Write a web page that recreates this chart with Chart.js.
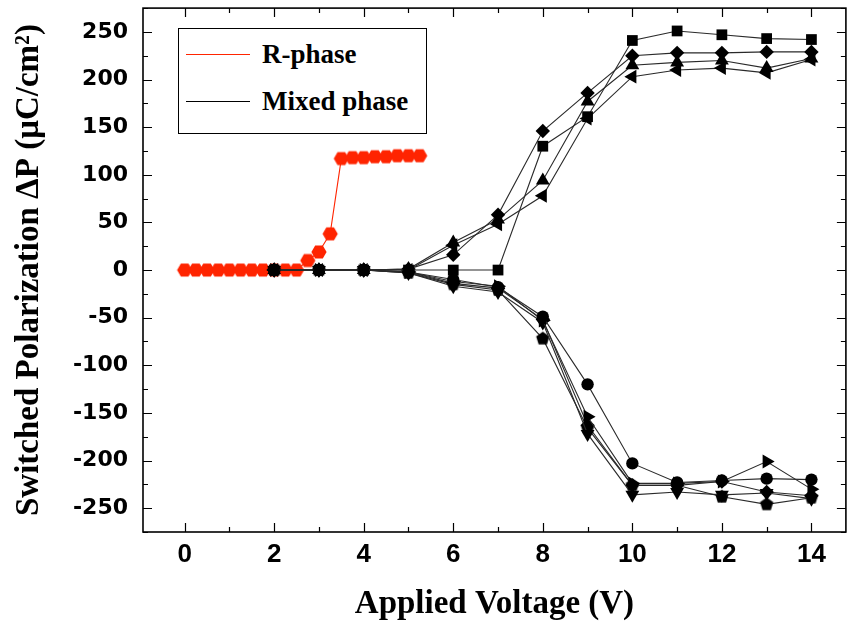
<!DOCTYPE html>
<html>
<head>
<meta charset="utf-8">
<script src="https://cdn.jsdelivr.net/npm/chart.js@4/dist/chart.umd.min.js"></script>
<style>
  html, body { margin: 0; padding: 0; background: #fff; }
  #wrap { position: relative; width: 854px; height: 624px; }
  #legend {
    position: absolute; left: 178px; top: 28px; width: 249px; height: 106px;
    box-sizing: border-box; border: 1.5px solid #000; background: #fff;
    font-family: "Liberation Serif", "Times New Roman", serif; font-weight: bold; font-size: 27px;
  }
  #legend .item { position: absolute; left: 7px; display: flex; align-items: center; height: 30px; }
  #legend .swatch { width: 64px; height: 0; border-top: 1.6px solid; margin-right: 12px; }
</style>
</head>
<body>
<div id="wrap">
  <canvas id="c" width="854" height="624"></canvas>
  <div id="legend"></div>
</div>
<script>
// ---- data -------------------------------------------------------------
const xTickValues = [0, 2, 4, 6, 8, 10, 12, 14];
const yTickValues = [-250, -200, -150, -100, -50, 0, 50, 100, 150, 200, 250];

// R-phase sweep (V, µC/cm²)
const rPhaseVoltage = [0, 0.25, 0.5, 0.75, 1, 1.25, 1.5, 1.75, 2, 2.25, 2.5,
                       2.75, 3, 3.25, 3.5, 3.75, 4, 4.25, 4.5, 4.75, 5, 5.25];
const rPhaseDP      = [0, 0, 0, 0, 0, 0, 0, 0, 0, 0, 0,
                       10, 19, 38, 117, 118, 118, 119, 119, 120, 120, 120];

// Mixed-phase samples, one array per measured capacitor
const mixedVoltage  = [2, 3, 4, 5, 6, 7, 8, 9, 10, 11, 12, 13, 14];
const mixedSquare   = [0, 0, 0, 0, 0, 0, 130, 161, 241, 251, 247, 243, 242];
const mixedDiamond  = [0, 0, 0, 1, 16, 58, 146, 186, 225, 228, 228, 229, 229];
const mixedTriUp    = [0, 0, 0, 1, 29, 53, 94, 177, 215, 218, 220, 212, 222];
const mixedTriLeft  = [0, 0, 0, 0, 26, 48, 78, 159, 203, 210, 212, 207, 221];
const mixedCircle   = [0, 0, 0, -2, -10, -18, -49, -120, -203, -223, -221, -219, -220];
const mixedTriRight = [0, 0, 0, -2, -12, -17, -53, -154, -224, -224, -222, -201, -230];
const mixedTriDown  = [0, 0, 0, -3, -17, -23, -55, -172, -236, -233, -236, -234, -240];
const mixedPentagon = [0, 0, 0, -3, -15, -21, -72, -166, -226, -226, -238, -246, -239];
const mixedDiamond2 = [0, 0, 0, -2, -14, -19, -52, -163, -226, -226, -222, -233, -237];

const xMinorStep = 1;
const yMinorStep = 25;

// ---- marker helpers -----------------------------------------------------
function polygonMarker(sides, r, color, startAngle) {
  const size = Math.ceil(2 * r + 2);
  const cv = document.createElement('canvas');
  cv.width = size; cv.height = size;
  const g = cv.getContext('2d');
  g.fillStyle = color;
  g.beginPath();
  for (let i = 0; i < sides; i++) {
    const a = startAngle + i * 2 * Math.PI / sides;
    const px = size / 2 + r * Math.cos(a);
    const py = size / 2 + r * Math.sin(a);
    if (i === 0) g.moveTo(px, py); else g.lineTo(px, py);
  }
  g.closePath();
  g.fill();
  return cv;
}

const RED = 'rgb(255, 36, 0)';
const hexagon = polygonMarker(6, 7.6, RED, 0);
const pentagon = polygonMarker(5, 7, '#000', -Math.PI / 2);

function toPoints(xs, ys) { return xs.map((x, i) => ({ x, y: ys[i] })); }

function mixedSet(values, style, radius, rotation) {
  return {
    label: 'Mixed phase',
    data: toPoints(mixedVoltage, values),
    borderColor: '#2a2a2a',
    borderWidth: 1.1,
    backgroundColor: '#000',
    pointBackgroundColor: '#000',
    pointBorderColor: '#000',
    pointBorderWidth: 0,
    pointStyle: style,
    pointRadius: radius,
    pointRotation: rotation || 0,
    tension: 0
  };
}

const datasets = [
  mixedSet(mixedSquare, 'rect', 7.6),
  mixedSet(mixedDiamond, 'rectRot', 7.2),
  mixedSet(mixedTriUp, 'triangle', 8),
  mixedSet(mixedTriLeft, 'triangle', 8, 270),
  mixedSet(mixedCircle, 'circle', 6.2),
  mixedSet(mixedTriRight, 'triangle', 8, 90),
  mixedSet(mixedTriDown, 'triangle', 8, 180),
  mixedSet(mixedPentagon, pentagon, 7),
  mixedSet(mixedDiamond2, 'rectRot', 7.2),
  {
    label: 'R-phase',
    data: toPoints(rPhaseVoltage, rPhaseDP),
    borderColor: RED,
    borderWidth: 1.1,
    pointStyle: hexagon,
    pointRadius: 7,
    tension: 0
  }
];

// ---- inward tick marks and closed frame ---------------------------------
const frameTicks = {
  id: 'frameTicks',
  afterDatasetsDraw(chart) {
    const { ctx, chartArea: a, scales: { x, y } } = chart;
    ctx.save();
    ctx.strokeStyle = '#000';
    ctx.lineWidth = 1.2;
    ctx.beginPath();
    for (let v = Math.ceil(x.min); v <= x.max; v += xMinorStep) {
      const px = Math.round(x.getPixelForValue(v)) + 0.5;
      const len = xTickValues.includes(v) ? 9 : 5;
      ctx.moveTo(px, a.bottom); ctx.lineTo(px, a.bottom - len);
      ctx.moveTo(px, a.top); ctx.lineTo(px, a.top + len);
    }
    const yStart = Math.ceil(y.min / yMinorStep) * yMinorStep;
    for (let v = yStart; v <= y.max; v += yMinorStep) {
      const py = Math.round(y.getPixelForValue(v)) + 0.5;
      const len = yTickValues.includes(v) ? 9 : 5;
      ctx.moveTo(a.left, py); ctx.lineTo(a.left + len, py);
      ctx.moveTo(a.right, py); ctx.lineTo(a.right - len, py);
    }
    ctx.stroke();
    ctx.lineWidth = 1.6;
    ctx.strokeRect(a.left, a.top, a.right - a.left, a.bottom - a.top);
    ctx.restore();
  }
};

const SANS_Y = '"DejaVu Sans", "Liberation Sans", Arial, sans-serif';
const SANS_X = '"Liberation Sans Narrow", "Liberation Sans", Arial, sans-serif';
const SERIF = '"Liberation Serif", "Times New Roman", serif';

const chart = new Chart(document.getElementById('c'), {
  type: 'line',
  data: { datasets },
  options: {
    responsive: false,
    animation: false,
    devicePixelRatio: 1,
    layout: { padding: { top: 7, right: 3, left: 0, bottom: 0 } },
    plugins: { legend: { display: false }, tooltip: { enabled: false } },
    scales: {
      x: {
        type: 'linear',
        min: -0.93,
        max: 14.77,
        afterBuildTicks: s => { s.ticks = xTickValues.map(v => ({ value: v })); },
        afterFit: s => { s.height = 92; s.paddingLeft = 0; s.paddingRight = 0; },
        grid: { display: false, drawTicks: false },
        border: { display: false },
        ticks: {
          color: '#000', padding: 7, maxRotation: 0, autoSkip: false,
          font: { family: SANS_X, weight: 'bold', size: 26 }
        },
        title: {
          display: true, text: 'Applied Voltage (V)', color: '#000',
          font: { family: SERIF, weight: 'bold', size: 33 },
          padding: { top: 0, bottom: 0 }
        }
      },
      y: {
        type: 'linear',
        min: -275,
        max: 275,
        afterBuildTicks: s => { s.ticks = yTickValues.map(v => ({ value: v })); },
        afterFit: s => { s.width = 143; s.paddingTop = 0; s.paddingBottom = 0; },
        grid: { display: false, drawTicks: false },
        border: { display: false },
        ticks: {
          color: '#000', padding: 15, autoSkip: false,
          font: { family: SANS_Y, weight: 'bold', size: 22 }
        },
        title: {
          display: true, text: 'Switched Polarization ΔP (μC/cm²)', color: '#000',
          font: { family: SERIF, weight: 'bold', size: 33 },
          padding: { top: 10, bottom: 0 }
        }
      }
    }
  },
  plugins: [frameTicks]
});

// ---- legend (one entry per phase) ---------------------------------------
const legendEntries = [
  { text: 'R-phase', color: RED },
  { text: 'Mixed phase', color: '#000' }
];
const legendEl = document.getElementById('legend');
legendEntries.forEach((e, i) => {
  const item = document.createElement('div');
  item.className = 'item';
  item.style.top = (10 + i * 47) + 'px';
  const sw = document.createElement('span');
  sw.className = 'swatch';
  sw.style.borderTopColor = e.color;
  const tx = document.createElement('span');
  tx.textContent = e.text;
  item.appendChild(sw); item.appendChild(tx);
  legendEl.appendChild(item);
});
</script>
</body>
</html>
